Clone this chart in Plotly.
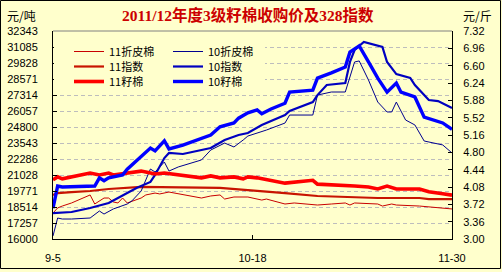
import plotly.graph_objects as go
import pandas as pd

YEAR = "2011-"
title_text = "2011/12年度3级籽棉收购价及328指数"
left_unit = "元/吨"
right_unit = "元/斤"

left_ticks = [16000, 17257, 18514, 19771, 21028, 22286, 23543, 24800,
              26057, 27314, 28571, 29828, 31085, 32343]
right_ticks = [3.00, 3.36, 3.72, 4.08, 4.44, 4.80, 5.16, 5.52, 5.88,
               6.24, 6.60, 6.96, 7.32]
x_tick_dates = ["09-05", "10-18", "11-30"]
x_tick_labels = ["9-5", "10-18", "11-30"]

# 11折皮棉 (元/吨)
d11_lint = ["09-05", "09-06", "09-07", "09-09", "09-13", "09-14", "09-16", "09-17", "09-18", "09-19",
            "09-20", "09-21", "09-24", "09-25", "09-27", "09-28", "09-30", "10-02", "10-07", "10-09",
            "10-11", "10-12", "10-14", "10-17", "10-20", "10-21", "10-25", "10-27", "11-01", "11-04",
            "11-07", "11-08", "11-09", "11-14", "11-15", "11-17", "11-18", "11-23", "11-25", "11-30"]
v11_lint = [18040, 18440, 18590, 18830, 19460, 18750, 19220, 19220, 18910, 18830,
            19220, 18830, 19220, 19460, 19610, 19540, 19690, 19540, 19220, 19380,
            19460, 19140, 19300, 19300, 19060, 19140, 18750, 18830, 18670, 18750,
            18830, 18670, 18830, 18750, 18590, 18750, 18670, 18590, 18510, 18360]

# 11指数 (元/吨)
d11_index = ["09-05", "09-06", "09-09", "09-13", "09-17", "09-22", "09-24", "10-11", "10-14",
             "10-17", "10-25", "11-01", "11-08", "11-14", "11-23", "11-25", "11-30"]
v11_index = [19460, 19610, 19690, 19770, 19930, 20010, 20090, 20010, 19930,
             19850, 19610, 19380, 19300, 19220, 19220, 19140, 19140]

# 11籽棉 (元/斤)
d11_seed = ["09-05", "09-06", "09-07", "09-09", "09-13", "09-15", "09-17", "09-18", "09-21", "09-24",
            "09-25", "09-27", "09-29", "10-02", "10-07", "10-09", "10-11", "10-14", "10-16", "10-17",
            "10-19", "10-25", "10-31", "11-01", "11-07", "11-09", "11-12", "11-14", "11-16", "11-18",
            "11-23", "11-25", "11-28", "11-30"]
v11_seed = [4.23, 4.29, 4.25, 4.29, 4.37, 4.33, 4.37, 4.33, 4.37, 4.41,
            4.39, 4.35, 4.37, 4.33, 4.27, 4.31, 4.27, 4.29, 4.25, 4.29,
            4.27, 4.16, 4.22, 4.14, 4.12, 4.10, 4.08, 4.04, 4.10, 4.04,
            4.04, 3.98, 3.94, 3.91]

# 10折皮棉 (元/吨)
d10_lint = ["09-05", "09-06", "09-07", "09-09", "09-13", "09-15", "09-16", "09-18", "09-21", "09-22",
            "09-24", "09-26", "09-27", "09-29", "09-30", "10-02", "10-07", "10-09", "10-12", "10-14",
            "10-16", "10-17", "10-21", "10-25", "10-26", "10-31", "11-01", "11-04", "11-07", "11-09",
            "11-10", "11-12", "11-14", "11-16", "11-17", "11-18", "11-20", "11-22", "11-24", "11-26",
            "11-28", "11-30"]
v10_lint = [16240, 17650, 17570, 17570, 17650, 18200, 17960, 18360, 18750, 18990,
            19770, 21500, 21260, 22050, 21340, 21660, 22210, 22990, 23540, 23230,
            23780, 24090, 24560, 25110, 25740, 25740, 27310, 27550, 27550, 29910,
            29990, 28490, 26760, 25980, 25980, 26760, 25350, 24960, 23700, 23540,
            23390, 22760]

# 10指数 (元/吨)
d10_index = ["09-05", "09-09", "09-13", "09-17", "09-19", "09-23", "09-26", "09-27", "09-29", "09-30",
             "10-03", "10-09", "10-12", "10-15", "10-17", "10-20", "10-25", "10-26", "10-31", "11-01",
             "11-03", "11-07", "11-08", "11-09", "11-11", "11-15", "11-16", "11-18", "11-21", "11-22",
             "11-25", "11-27", "11-30"]
v10_index = [18040, 18120, 18440, 18830, 19220, 20010, 20480, 21030, 22360, 22760,
             22680, 23150, 23780, 24170, 24330, 24960, 25740, 26060, 26760, 27310,
             28100, 28260, 29910, 30850, 31480, 31090, 29910, 28960, 28650, 28100,
             26920, 26840, 26290]

# 10籽棉 (元/斤)
d10_seed = ["09-05", "09-06", "09-07", "09-14", "09-15", "09-16", "09-17", "09-20", "09-21", "09-26",
            "09-27", "09-29", "09-30", "10-03", "10-09", "10-11", "10-14", "10-15", "10-17", "10-19",
            "10-20", "10-22", "10-25", "10-26", "10-31", "11-01", "11-04", "11-07", "11-08", "11-10",
            "11-12", "11-14", "11-16", "11-18", "11-19", "11-22", "11-24", "11-27", "11-28", "11-30"]
v10_seed = [3.64, 4.10, 4.08, 4.10, 4.27, 4.21, 4.27, 4.33, 4.45, 4.89,
            4.83, 5.04, 4.87, 4.95, 5.16, 5.33, 5.41, 5.51, 5.62, 5.68,
            5.60, 5.70, 5.82, 6.05, 6.09, 6.34, 6.45, 6.57, 6.88, 7.01,
            6.68, 6.34, 6.05, 6.24, 6.05, 5.95, 5.53, 5.45, 5.41, 5.28]


def to_dates(lst):
    return pd.to_datetime([YEAR + s for s in lst])


W, H = 502, 272
ML, MR, MT, MB = 53, 50, 31, 33
PW, PH = W - ML - MR, H - MT - MB


def px(x):
    return (x - ML) / PW


def py(y):
    return (H - MB - y) / PH


series = [
    ("11折皮棉", d11_lint, v11_lint, "y", "#C80000", 1, "legend"),
    ("11指数", d11_index, v11_index, "y", "#C81400", 2.2, "legend2"),
    ("11籽棉", d11_seed, v11_seed, "y2", "#FF0000", 3.6, "legend3"),
    ("10折皮棉", d10_lint, v10_lint, "y", "#000090", 1, "legend4"),
    ("10指数", d10_index, v10_index, "y", "#0000C0", 2.2, "legend5"),
    ("10籽棉", d10_seed, v10_seed, "y2", "#0000FF", 3.4, "legend6"),
]

fig = go.Figure()
for name, d, v, ax, color, width, leg in series:
    fig.add_trace(go.Scatter(
        x=to_dates(d), y=v, name=name, mode="lines", yaxis=ax,
        line=dict(color=color, width=width), legend=leg, showlegend=True,
    ))

legend_font = dict(family="Noto Sans CJK SC", size=11, color="#000000")
leg_pos = {
    "legend": (69, 51.5), "legend2": (69, 66.5), "legend3": (69, 81.5),
    "legend4": (168, 51.5), "legend5": (168, 66.5), "legend6": (168, 81.5),
}
legend_layout = {}
for k, (lx, ly) in leg_pos.items():
    legend_layout[k] = dict(
        x=px(lx), y=py(ly), xanchor="left", yanchor="middle",
        bgcolor="rgba(0,0,0,0)", borderwidth=0, font=legend_font,
        itemwidth=30, tracegroupgap=0,
    )

tick_font = dict(family="Liberation Sans", size=11, color="#000000")

fig.update_layout(
    width=W, height=H,
    margin=dict(l=ML, r=MR, t=MT, b=MB, pad=0, autoexpand=False),
    paper_bgcolor="#FFFFCC", plot_bgcolor="#FFFFCC",
    showlegend=True,
    **legend_layout,
    xaxis=dict(
        type="date", automargin=False,
        range=[to_dates(["09-05"])[0], to_dates(["11-30"])[0]],
        tickvals=to_dates(x_tick_dates), ticktext=x_tick_labels,
        ticks="inside", ticklen=4, tickcolor="#000000",
        showline=True, linecolor="#000000", linewidth=1,
        showgrid=False, zeroline=False, tickfont=tick_font,
        ticklabelstandoff=9,
    ),
    yaxis=dict(
        automargin=False,
        range=[left_ticks[0], left_ticks[-1]],
        tickvals=left_ticks, ticktext=[str(t) for t in left_ticks],
        ticks="inside", ticklen=4, tickcolor="#000000",
        showline=True, linecolor="#000000", linewidth=1,
        showgrid=True, gridcolor="#BDBDBD", griddash="4px,3px", gridwidth=1,
        zeroline=False, tickfont=tick_font, ticklabelstandoff=12,
    ),
    yaxis2=dict(
        automargin=False,
        range=[right_ticks[0], right_ticks[-1]], overlaying="y", side="right",
        tickvals=right_ticks, ticktext=["%.2f" % t for t in right_ticks],
        ticks="inside", ticklen=4, tickcolor="#000000",
        showline=True, linecolor="#000000", linewidth=1,
        showgrid=False, zeroline=False, tickfont=tick_font, ticklabelstandoff=8,
    ),
    annotations=[
        dict(text="<b>" + title_text + "</b>", x=px(248), y=py(15), xref="paper", yref="paper",
             xanchor="center", yanchor="middle", showarrow=False,
             font=dict(family="Liberation Serif, Noto Sans CJK SC", size=15.5, color="#CC0000")),
        dict(text=left_unit, x=px(21), y=py(15), xref="paper", yref="paper",
             xanchor="center", yanchor="middle", showarrow=False,
             font=dict(family="Noto Sans CJK SC", size=12, color="#000000")),
        dict(text=right_unit, x=px(477), y=py(15), xref="paper", yref="paper",
             xanchor="center", yanchor="middle", showarrow=False,
             font=dict(family="Noto Sans CJK SC", size=12, color="#000000")),
    ],
    shapes=[
        # cover behind legend
        dict(type="rect", xref="paper", yref="paper", x0=px(54), x1=px(265), y0=py(88), y1=py(32),
             fillcolor="#FFFFCC", line=dict(width=0), layer="above"),
        # plot top border
        dict(type="line", xref="paper", yref="paper", x0=0, x1=1, y0=1, y1=1,
             line=dict(color="#808080", width=1), layer="above"),
        # outer chart border
        dict(type="rect", xref="paper", yref="paper", x0=px(0.5), x1=px(500.5), y0=py(268.5), y1=py(0.5),
             line=dict(color="#000000", width=1), fillcolor="rgba(0,0,0,0)", layer="above"),
    ],
)

fig.write_html("out.html")
